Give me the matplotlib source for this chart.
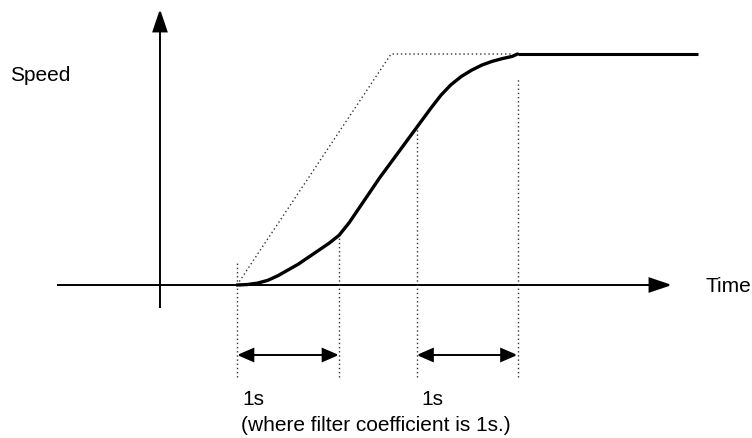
import matplotlib
matplotlib.use("Agg")
import matplotlib.pyplot as plt
from matplotlib.patches import FancyArrowPatch

plt.rcParams["font.family"] = ["Liberation Sans", "DejaVu Sans"]

# Filtered speed response (time in s, speed normalised to final value)
curve_t = [0.00, 0.10, 0.20, 0.30, 0.40, 0.50, 0.60, 0.70, 0.80, 0.90,
           1.00, 1.10, 1.20, 1.30, 1.40, 1.50, 1.60, 1.70, 1.80, 1.90,
           2.00, 2.10, 2.20, 2.30, 2.40, 2.50, 2.60, 2.70, 2.75]
curve_v = [0.000, 0.002, 0.008, 0.020, 0.040, 0.065, 0.090, 0.120, 0.150, 0.180,
           0.215, 0.270, 0.335, 0.400, 0.465, 0.525, 0.585, 0.645, 0.705, 0.765,
           0.822, 0.868, 0.903, 0.930, 0.952, 0.968, 0.980, 0.990, 1.000]
# Constant speed after the acceleration
hold_t = [2.75, 4.52]
hold_v = [1.0, 1.0]
# Unfiltered (linear) speed command
ramp_t = [0.0, 1.51, 2.70]
ramp_v = [0.0, 1.0, 1.0]
# Vertical guide lines: time and upper end
guide_t = [0.0, 1.0, 1.76, 2.75]
guide_top = [0.10, 0.21, 0.68, 0.90]
guide_bottom = -0.40
# Dimension arrows for the filter spans
span_start = [0.0, 1.76]
span_end = [1.0, 2.75]
span_labels = ["1s", "1s"]
span_level = -0.303
note_text = "(where filter coefficient is 1s.)"
x_label = "Time"
y_label = "Speed"

fig = plt.figure(figsize=(7.52, 4.38), dpi=100)
ax = fig.add_axes([0, 0, 1, 1])
ax.set_xlim(-2.3235, 5.049)
ax.set_ylim(-0.6623, 1.2338)
ax.axis("off")

def arrow(p0, p1, style, lw):
    ax.add_patch(FancyArrowPatch(p0, p1, arrowstyle=style, mutation_scale=1,
                                 shrinkA=0, shrinkB=0, lw=lw, color="black",
                                 joinstyle="miter", capstyle="butt"))

# Axes with arrow heads
arrow((-1.765, 0.0), (4.265, 0.0), "-|>,head_length=14,head_width=4.7", 1.4)
arrow((-0.755, -0.0996), (-0.755, 1.195), "-|>,head_length=14,head_width=4.7", 1.4)

# Linear command (dotted)
ax.plot(ramp_t, ramp_v, color="#333333", lw=1.0, ls=(0, (1, 2)))

# Guide lines
for t, top in zip(guide_t, guide_top):
    ax.plot([t, t], [guide_bottom, top], color="#333333", lw=1.0, ls=(0, (1, 2)))

# Filtered response
ax.plot(curve_t, curve_v, color="black", lw=2.4, solid_capstyle="round",
        solid_joinstyle="round")
ax.plot(hold_t, hold_v, color="black", lw=2.2, solid_capstyle="butt")

# Span arrows and labels
for a, b, lab in zip(span_start, span_end, span_labels):
    arrow((a, span_level), (b, span_level), "<|-|>,head_length=10,head_width=4.3", 1.4)
    ax.text(a + 0.05, -0.52, lab, fontsize=15, ha="left", va="baseline")

ax.text(1.36, -0.632, note_text, fontsize=15, ha="center", va="baseline")
ax.text(-2.225, 0.883, y_label, fontsize=15, ha="left", va="baseline")
ax.text(4.59, -0.03, x_label, fontsize=15, ha="left", va="baseline")

fig.savefig("out.png", dpi=100)
